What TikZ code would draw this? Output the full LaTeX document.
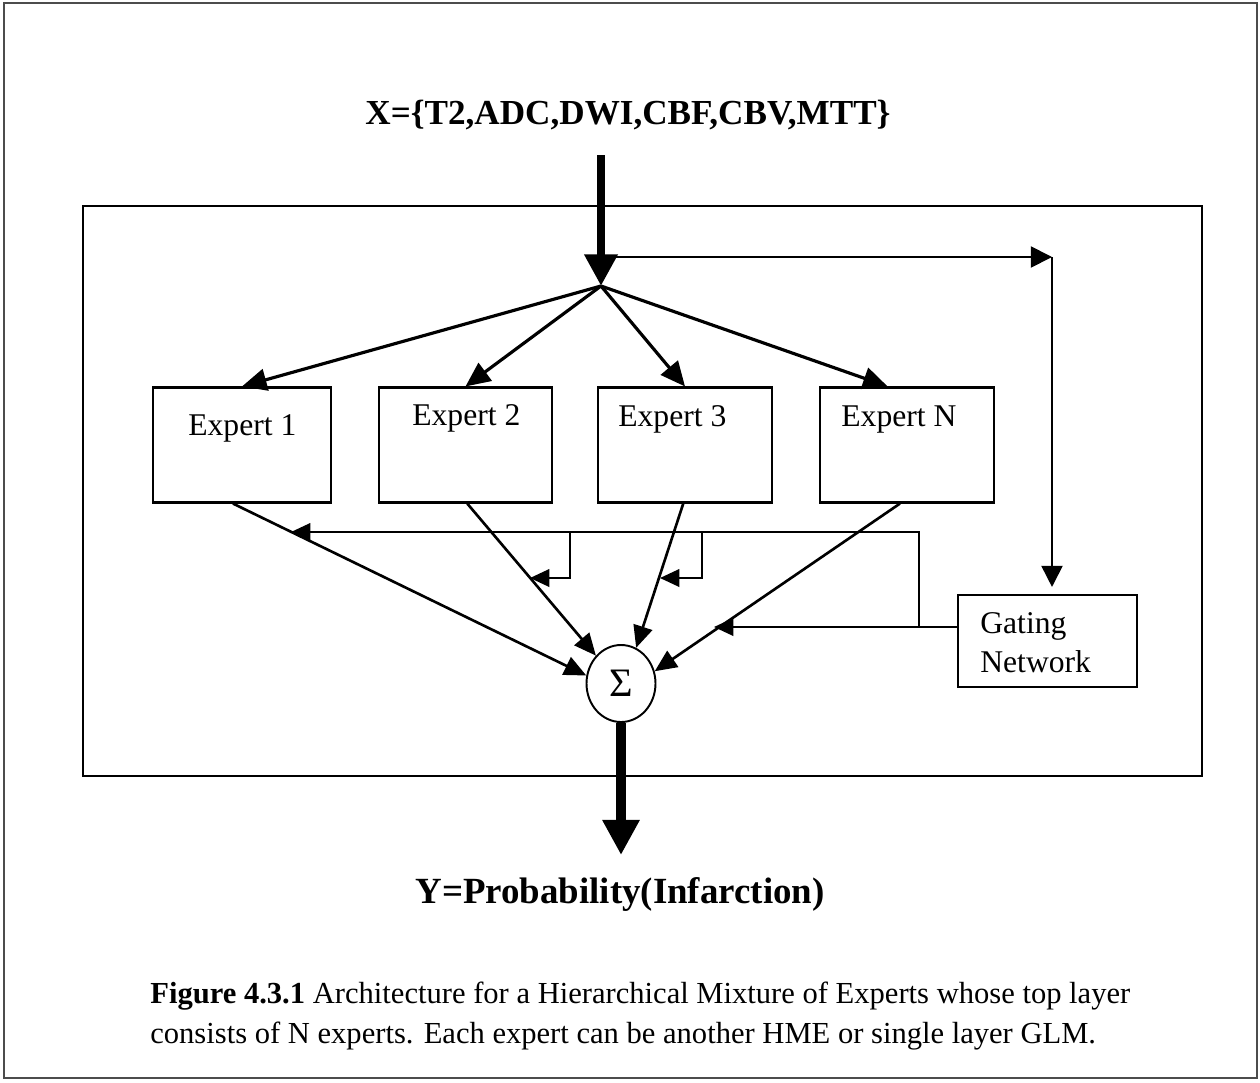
\documentclass[tikz,border=0pt]{standalone}
\usepackage{fontspec}
\setmainfont{Liberation Serif}
\usetikzlibrary{arrows.meta,shapes.geometric,calc}
\newcommand{\pxu}{0.02cm}
\begin{document}
\begin{tikzpicture}[x=0.02cm,y=-0.02cm,
  box/.style={draw,line width=1.2pt,inner sep=0pt,minimum height=115*\pxu},
  lbl/.style={inner sep=0pt,anchor=base west,font=\fontsize{18}{22}\selectfont},
  heading/.style={inner sep=0pt,anchor=base,font=\bfseries\fontsize{20}{24}\selectfont},
  captxt/.style={inner sep=0pt,anchor=base west,font=\fontsize{17.4}{21}\selectfont},
  inarrow/.style={line width=4.8pt,-{Triangle[length=18pt,width=18pt]}},
  outarrow/.style={line width=5.8pt,-{Triangle[length=20pt,width=20pt]}},
  fanout/.style={line width=1.8pt,-{Triangle[length=14pt,width=12.5pt]}},
  merge/.style={line width=1.5pt,-{Triangle[length=12.5pt,width=11pt]}},
  feed/.style={line width=1pt,-{Triangle[length=12pt,width=12pt]}},
  gatearrow/.style={line width=1.1pt,-{Triangle[length=11pt,width=10pt]}}
]
\useasboundingbox (0,0) rectangle (1260,1082);
% page frame and inner frame
\draw[line width=0.8pt,black!70] (4,3) rectangle (1257,1078);
\draw[line width=1.2pt] (83,206) rectangle (1202,776);

% headings
\node[heading] (xset) at (628,124) {X=\{T2,ADC,DWI,CBF,CBV,MTT\}};
\node[heading,font=\bfseries\fontsize{21}{24}\selectfont] (yprob) at (620,903) {Y=Probability(Infarction)};

% experts
\node[box,minimum width=178*\pxu] (e1) at (242,445) {};
\node[box,minimum width=173*\pxu] (e2) at (465.5,445) {};
\node[box,minimum width=174*\pxu] (e3) at (685,445) {};
\node[box,minimum width=174*\pxu] (eN) at (907,445) {};
\node[lbl] (e1t) at (188,435) {Expert 1};
\node[lbl] (e2t) at (412,425) {Expert 2};
\node[lbl] (e3t) at (618,426) {Expert 3};
\node[lbl] (eNt) at (841,426) {Expert N};

% gating network
\node[box,minimum width=179*\pxu,minimum height=92*\pxu] (gt) at (1047.5,641) {};
\node[lbl] (gt1) at (980,633) {Gating};
\node[lbl] (gt2) at (980,672) {Network};

% summation
\node[draw,ellipse,line width=1.1pt,minimum width=69*\pxu,minimum height=77*\pxu,inner sep=0pt,
      font=\fontsize{23}{23}\selectfont] (sig) at (621,683.5) {Σ};

% input and output
\coordinate (xin) at (601,155);
\coordinate (j) at (601,286);
\coordinate (split) at (601,257);
\coordinate (corner) at (1052,257);
\coordinate (yout) at (621,855);
\draw[inarrow] (xin) -- (j);
\draw[outarrow] (sig.south) -- (yout);

% fan-out to experts
\draw[fanout] (j) -- (e1.north);
\draw[fanout] (j) -- (e2.north);
\draw[fanout] (j) -- (e3.north);
\draw[fanout] (j) -- ($(eN.north west)!0.39!(eN.north east)$);

% input to gating network
\draw[feed] (split) -- (corner);
\draw[feed,shorten >=7*\pxu] (corner) -- (corner |- gt.north);

% expert outputs into the sum
\draw[merge] ($(e1.south west)!0.45!(e1.south east)$) -- (sig.167);
\draw[merge] ($(e2.south west)!0.51!(e2.south east)$) -- (sig.132);
\draw[merge] ($(e3.south west)!0.49!(e3.south east)$) -- (sig.67);
\draw[merge] ($(eN.south west)!0.46!(eN.south east)$) -- (sig.20);

% gating weights
\coordinate (gv) at (919,627);
\coordinate (gtop) at (919,532);
\coordinate (w1) at (291,532);
\coordinate (wN) at (714,627);
\coordinate (k2) at (570,532);
\coordinate (w2) at (530,578);
\coordinate (k3) at (702,532);
\coordinate (w3) at (660,578);
\draw[gatearrow] (gt.west |- gv) -- (wN);
\draw[gatearrow] (gv) -- (gtop) -- (w1);
\draw[gatearrow] (k2) |- (w2);
\draw[gatearrow] (k3) |- (w3);

% caption
\node[captxt] (cap1) at (150,1003) {\textbf{Figure 4.3.1} Architecture for a Hierarchical Mixture of Experts whose top layer};
\node[captxt] (cap2) at (150,1043) {consists of N experts. Each expert can be another HME or single layer GLM.};
\end{tikzpicture}
\end{document}
